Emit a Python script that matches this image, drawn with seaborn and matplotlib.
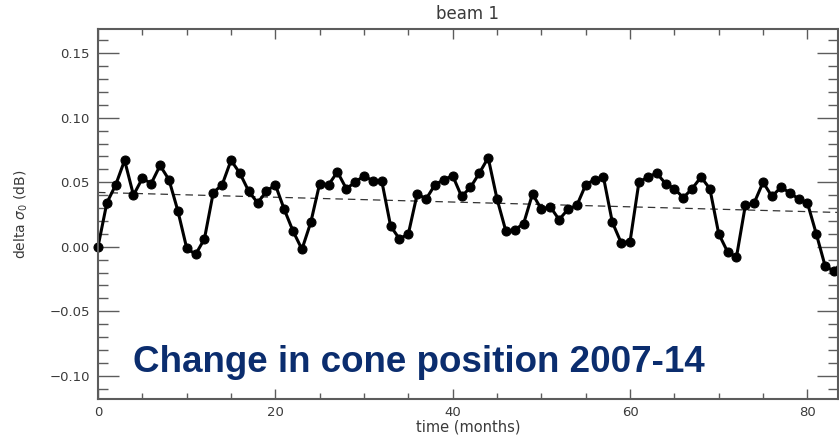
import numpy as np
import pandas as pd
import matplotlib
matplotlib.use("Agg")
import matplotlib.pyplot as plt
from matplotlib.ticker import MultipleLocator, FuncFormatter
import seaborn as sns

# Monthly change in sigma-0 for beam 1
months = list(range(85))
delta_sigma0 = [
    0.000, 0.034, 0.048, 0.067, 0.040, 0.053, 0.049, 0.063, 0.052, 0.028,
    -0.001, -0.006, 0.006, 0.042, 0.048, 0.067, 0.057, 0.043, 0.034, 0.043,
    0.048, 0.029, 0.012, -0.002, 0.019, 0.049, 0.048, 0.058, 0.045, 0.050,
    0.055, 0.051, 0.051, 0.016, 0.006, 0.010, 0.041, 0.037, 0.048, 0.052,
    0.055, 0.039, 0.046, 0.057, 0.069, 0.037, 0.012, 0.013, 0.018, 0.041,
    0.029, 0.031, 0.021, 0.029, 0.032, 0.048, 0.052, 0.054, 0.019, 0.003,
    0.004, 0.050, 0.054, 0.057, 0.049, 0.045, 0.038, 0.045, 0.054, 0.045,
    0.010, -0.004, -0.008, 0.032, 0.034, 0.050, 0.039, 0.046, 0.042, 0.037,
    0.034, 0.010, -0.015, -0.019, -0.011,
]
x_ticks = [0, 20, 40, 60, 80]
y_ticks = [-0.10, -0.05, 0.00, 0.05, 0.10, 0.15]

title = "beam 1"
x_label = "time (months)"
y_label = r"delta $\sigma_0$ (dB)"
note = "Change in cone position 2007-14"

df = pd.DataFrame({"month": months, "delta": delta_sigma0})

sns.set_style("ticks")
plt.rcParams["font.family"] = ["DejaVu Sans"]
plt.rcParams["mathtext.fontset"] = "dejavusans"

axis_grey = "#5c5c5c"
text_grey = "#3a3a3a"

fig = plt.figure(figsize=(8.39, 4.38), dpi=100)
ax = fig.add_axes([98 / 839, 1 - 399.3 / 438, 740 / 839, (399.3 - 29) / 438])

# linear trend
slope, intercept = np.polyfit(df["month"], df["delta"], 1)
trend_x = np.array([0, 90])
trend = pd.DataFrame({"month": trend_x, "fit": intercept + slope * trend_x})
sns.lineplot(data=trend, x="month", y="fit", ax=ax, color="#333333",
             linewidth=0.9, linestyle=(0, (6, 4)))

sns.lineplot(data=df, x="month", y="delta", ax=ax, color="black",
             linewidth=2.2, marker="o", markersize=6.5,
             markeredgecolor="black", markerfacecolor="black", clip_on=False)

ax.set_xlim(0, 83.45)
ax.set_ylim(-0.1183, 0.1688)

ax.xaxis.set_major_locator(plt.FixedLocator(x_ticks))
ax.xaxis.set_minor_locator(MultipleLocator(5))
ax.yaxis.set_major_locator(plt.FixedLocator(y_ticks))
ax.yaxis.set_minor_locator(MultipleLocator(0.01))
ax.yaxis.set_major_formatter(FuncFormatter(lambda v, p: f"{v:.2f}".replace("-", "\u2212")))
ax.xaxis.set_major_formatter(FuncFormatter(lambda v, p: f"{v:.0f}"))

ax.tick_params(axis="both", which="both", direction="in", top=True, right=True,
               colors=axis_grey, labelcolor=text_grey, labelsize=9.5, width=1.0)
ax.tick_params(axis="y", which="major", length=15, pad=6)
ax.tick_params(axis="y", which="minor", length=7)
ax.tick_params(axis="x", which="major", length=7.5, pad=5)
ax.tick_params(axis="x", which="minor", length=4)

for side in ax.spines.values():
    side.set_color(axis_grey)
    side.set_linewidth(1.5)

ax.set_title(title, fontsize=12, color=text_grey, pad=7)
ax.set_xlabel(x_label, fontsize=10.5, color=text_grey, labelpad=0)
ax.set_ylabel(y_label, fontsize=10, color=text_grey, labelpad=14)

ax.text(3.95, -0.097, note, fontsize=26.5, fontweight="bold",
        family=["Liberation Sans", "DejaVu Sans"], color="#0b2d6e",
        va="baseline", ha="left")

fig.savefig("out.png", dpi=100)
